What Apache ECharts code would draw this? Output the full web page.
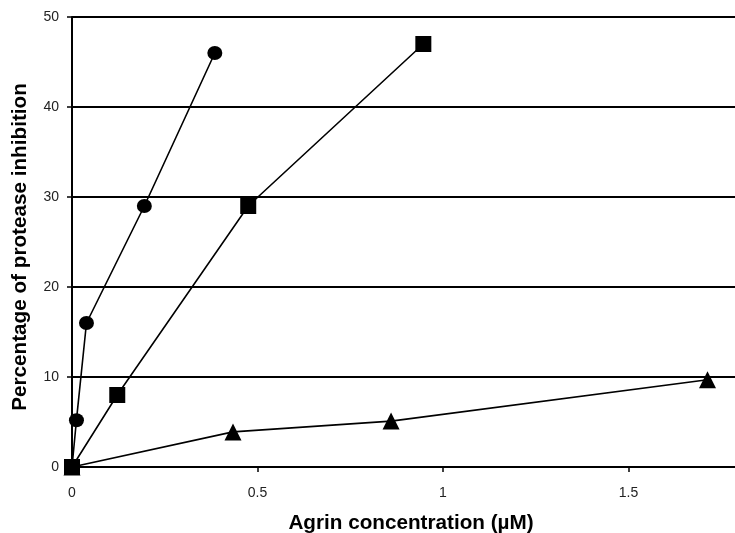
<!DOCTYPE html>
<html>
<head>
<meta charset="utf-8">
<script src="https://cdn.jsdelivr.net/npm/echarts@6/dist/echarts.min.js"></script>
<style>
  html, body { margin: 0; padding: 0; background: #fff; }
  #chart { width: 735px; height: 533px; }
</style>
</head>
<body>
<div id="chart"></div>
<script>
// Agrin concentration (µM) and percentage of protease inhibition, per series
const circleX = [0, 0.012, 0.039, 0.195, 0.385];
const circleY = [0, 5.2, 16, 29, 46];
const squareX = [0, 0.122, 0.475, 0.947];
const squareY = [0, 8, 29, 47];
const triangleX = [0, 0.434, 0.86, 1.713];
const triangleY = [0, 3.9, 5.1, 9.7];

const xTicks = [0, 0.5, 1, 1.5];
const yTicks = [0, 10, 20, 30, 40, 50];

const xTitle = 'Agrin concentration (µM)';
const yTitle = 'Percentage of protease inhibition';

const pairs = (xs, ys) => xs.map((x, i) => [x, ys[i]]);

const chart = echarts.init(document.getElementById('chart'), null, { renderer: 'canvas' });

const lineStyle = { color: '#000', width: 1.6 };
const itemStyle = { color: '#000' };
const tickFont = { color: '#222', fontFamily: '"Liberation Sans", Arial, sans-serif', fontSize: 14 };
const titleFont = 'bold 20.7px "Liberation Sans", Arial, sans-serif';

chart.setOption({
  animation: false,
  backgroundColor: '#fff',
  // the plot area runs on past the right edge of the page
  grid: {
    left: 72, top: 17, height: 450, width: 742,
    containLabel: false,
    outerBoundsMode: 'none'
  },
  xAxis: {
    type: 'value',
    min: 0,
    max: 2,
    interval: 0.5,
    axisLine: { show: true, onZero: false, lineStyle: { color: '#000', width: 2 } },
    axisTick: { show: true, length: 5, lineStyle: { color: '#000', width: 1.5 } },
    axisLabel: Object.assign({
      margin: 19,
      formatter: v => (xTicks.indexOf(v) >= 0 ? String(v) : '')
    }, tickFont),
    splitLine: { show: false }
  },
  yAxis: {
    type: 'value',
    min: 0,
    max: 50,
    interval: 10,
    axisLine: { show: true, lineStyle: { color: '#000', width: 2 } },
    axisTick: { show: true, length: 5, lineStyle: { color: '#000', width: 1.5 } },
    axisLabel: Object.assign({
      margin: 13,
      formatter: v => (yTicks.indexOf(v) >= 0 ? String(v) : '')
    }, tickFont),
    splitLine: { show: true, lineStyle: { color: '#000', width: 2 } }
  },
  graphic: [
    {
      type: 'text',
      x: 411,
      y: 523,
      style: {
        text: xTitle,
        fill: '#000',
        align: 'center',
        verticalAlign: 'middle',
        font: titleFont
      }
    },
    {
      type: 'text',
      x: 20,
      y: 247,
      rotation: Math.PI / 2,
      style: {
        text: yTitle,
        fill: '#000',
        align: 'center',
        verticalAlign: 'middle',
        font: titleFont
      }
    }
  ],
  series: [
    {
      type: 'line',
      data: pairs(triangleX, triangleY),
      symbol: 'triangle',
      symbolSize: 17,
      lineStyle,
      itemStyle,
      z: 3
    },
    {
      type: 'line',
      data: pairs(circleX, circleY),
      symbol: 'circle',
      symbolSize: [15, 14],
      lineStyle,
      itemStyle,
      z: 4
    },
    {
      type: 'line',
      data: pairs(squareX, squareY),
      symbol: 'rect',
      symbolSize: 16,
      lineStyle,
      itemStyle,
      z: 5
    }
  ]
});
</script>
</body>
</html>
